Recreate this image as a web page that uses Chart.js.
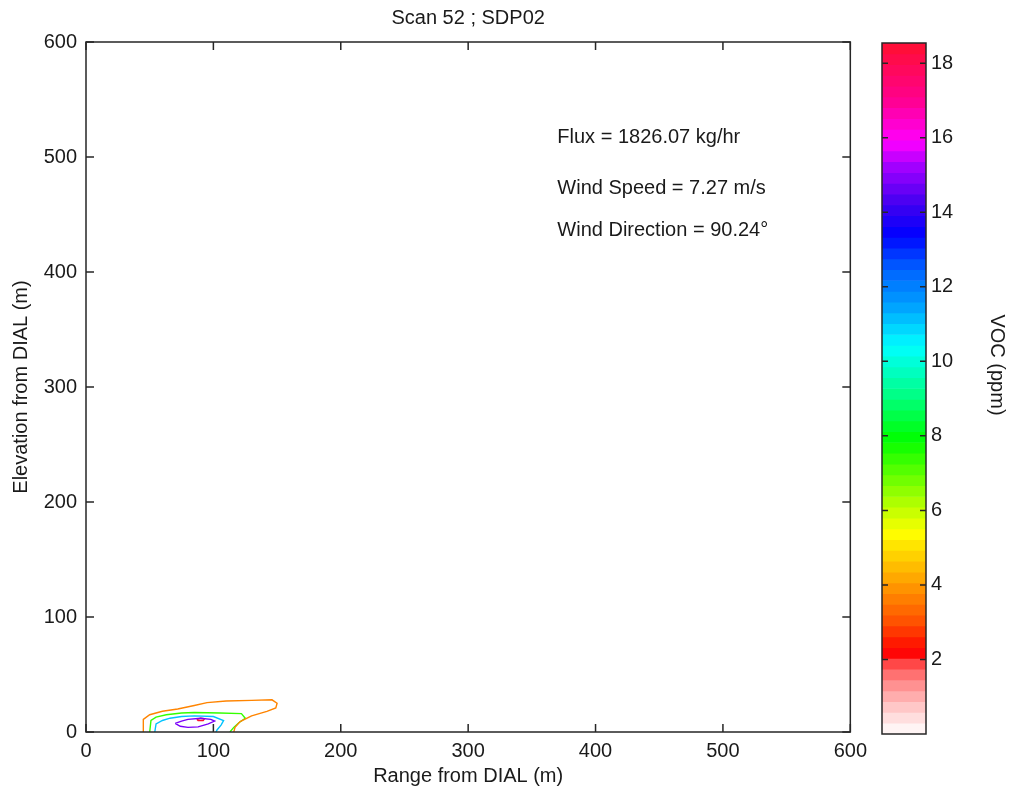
<!DOCTYPE html>
<html>
<head>
<meta charset="utf-8">
<title>Scan 52 ; SDP02</title>
<script src="https://cdn.jsdelivr.net/npm/chart.js@4.4.1/dist/chart.umd.min.js"></script>
<style>
  html, body { margin: 0; padding: 0; background: #fff; }
  #wrap { position: relative; width: 1016px; height: 794px; }
  #box-main { position: absolute; left: 0; top: 0; width: 874px; height: 794px; }
  #box-cbar { position: absolute; left: 870px; top: 0; width: 146px; height: 794px; }
</style>
</head>
<body>
<div id="wrap">
  <div id="box-main"><canvas id="grafico"></canvas></div>
  <div id="box-cbar"><canvas id="barra"></canvas></div>
</div>
<script>
// Scan 52 ; SDP02 - contornos de VOC (ppm) em range x elevação

// eixos (m)
const eixoMin = 0;
const eixoMax = 600;
const ticksEixo = [0, 100, 200, 300, 400, 500, 600];

// escala VOC (ppm)
const vocMin = 0;
const vocMax = 18.54;
const ticksVoc = [2, 4, 6, 8, 10, 12, 14, 16, 18];
const niveisContorno = [3.7, 7.4, 11.1, 14.8, 18.5];

// contornos: [range m, elevação m]
const contorno1 = [[45,0],[45,11],[50,15],[60,18],[72,20],[85,23],[95,25.5],[110,27],[130,27.5],[146,28],[150,25],[149,21],[142,18],[130,14],[121,9],[117,4],[116,0]];
const contorno2 = [[50,0],[51,10],[55,13],[63,15],[75,16.5],[85,17],[105,16.5],[122,16],[125,12],[120,8],[116,4],[113,0]];
const contorno3 = [[54,0],[55,7],[60,10],[66,12],[75,13.5],[85,14],[100,13.5],[108,10],[106,6],[103,2],[102,0]];
const contorno4 = [[70,7.5],[75,9.5],[80,11],[90,12],[98,11],[101,9.5],[96,7],[88,4.5],[80,4],[74,5],[70,7.5]];
const contorno5 = [[87,11],[90,12],[93,11.5],[92,10],[88,10],[87,11]];
const contornos = [contorno1, contorno2, contorno3, contorno4, contorno5];

const textos = ['Flux = 1826.07 kg/hr', 'Wind Speed = 7.27 m/s', 'Wind Direction = 90.24°'];
const titulo = 'Scan 52 ; SDP02';

// mapa de cores (estilo)
const mapaCores = [
  [0, '#ffffff'], [0.6, '#ffd2d2'], [1.2, '#ff9c9c'], [1.8, '#ff5a5a'], [2.2, '#ff0000'],
  [3.0, '#ff5000'], [4.0, '#ff9a00'], [5.0, '#ffe000'], [5.4, '#ffff00'], [6.2, '#b0ff00'],
  [7.9, '#00ff00'], [9.2, '#00ff90'], [10.4, '#00ffff'], [11.5, '#00a0ff'], [12.5, '#0060ff'],
  [13.4, '#0000ff'], [14.2, '#4000f0'], [15.2, '#a000ff'], [15.9, '#ff00ff'], [17.0, '#ff0090'],
  [18.54, '#ff1030'],
];
const nPassos = 64;
const corTexto = '#1a1a1a';
const corEixo = '#262626';

Chart.defaults.font.family = '"Liberation Sans", Arial, sans-serif';
Chart.defaults.font.size = 20;
Chart.defaults.color = corTexto;

function hexRgb(h) { return [1, 3, 5].map(i => parseInt(h.substr(i, 2), 16)); }

function corVoc(v) {
  for (let i = 1; i < mapaCores.length; i++) {
    const [v1, c1] = mapaCores[i];
    if (v <= v1) {
      const [v0, c0] = mapaCores[i - 1];
      const t = (v - v0) / (v1 - v0);
      const a = hexRgb(c0), b = hexRgb(c1);
      return `rgb(${a.map((x, k) => Math.round(x + (b[k] - x) * t)).join(',')})`;
    }
  }
  return mapaCores[mapaCores.length - 1][1];
}

const moldura = {
  id: 'moldura',
  afterDraw(chart) {
    const { ctx, chartArea: a, scales: { x, y } } = chart;
    ctx.save();
    ctx.strokeStyle = corEixo;
    ctx.lineWidth = 1.5;
    ctx.strokeRect(a.left, a.top, a.right - a.left, a.bottom - a.top);
    ctx.beginPath();
    x.ticks.forEach(t => {
      const px = x.getPixelForValue(t.value);
      ctx.moveTo(px, a.bottom); ctx.lineTo(px, a.bottom - 8);
      ctx.moveTo(px, a.top);    ctx.lineTo(px, a.top + 8);
    });
    y.ticks.forEach(t => {
      const py = y.getPixelForValue(t.value);
      ctx.moveTo(a.left, py);  ctx.lineTo(a.left + 8, py);
      ctx.moveTo(a.right, py); ctx.lineTo(a.right - 8, py);
    });
    ctx.stroke();

    // anotações
    ctx.fillStyle = corTexto;
    ctx.font = '20px "Liberation Sans", Arial, sans-serif';
    ctx.textBaseline = 'middle';
    ctx.textAlign = 'left';
    const tx = x.getPixelForValue(370);
    const ys = [517, 473, 436];
    textos.forEach((t, i) => ctx.fillText(t, tx, y.getPixelForValue(ys[i])));
    ctx.restore();
  },
};

function renderContornos() {
  const ctx = document.getElementById('grafico').getContext('2d');
  new Chart(ctx, {
    type: 'scatter',
    data: {
      datasets: contornos.map((c, i) => ({
        label: `${niveisContorno[i]} ppm`,
        data: c.map(([x, y]) => ({ x, y })),
        showLine: true,
        fill: false,
        tension: 0,
        borderColor: corVoc(niveisContorno[i]),
        borderWidth: 1.4,
        pointRadius: 0,
      })),
    },
    options: {
      responsive: true,
      maintainAspectRatio: false,
      animation: false,
      layout: { padding: { top: 0, right: 20, bottom: 0, left: 0 } },
      plugins: {
        legend: { display: false },
        tooltip: { enabled: false },
        title: {
          display: true,
          text: titulo,
          fullSize: false,
          color: corTexto,
          font: { size: 20, weight: 'normal' },
          padding: { top: 6, bottom: 12 },
        },
      },
      scales: {
        x: {
          min: eixoMin, max: eixoMax,
          afterBuildTicks: s => { s.ticks = ticksEixo.map(v => ({ value: v })); },
          afterFit: s => { s.height = 62; },
          grid: { display: false, drawTicks: false },
          border: { display: false },
          ticks: { padding: 7, maxRotation: 0 },
          title: { display: true, text: 'Range from DIAL (m)', padding: { top: 0, bottom: 6 } },
        },
        y: {
          min: eixoMin, max: eixoMax,
          afterBuildTicks: s => { s.ticks = ticksEixo.map(v => ({ value: v })); },
          afterFit: s => { s.width = 86; },
          grid: { display: false, drawTicks: false },
          border: { display: false },
          ticks: { padding: 9 },
          title: { display: true, text: 'Elevation from DIAL (m)', padding: { top: 9, bottom: 0 } },
        },
      },
    },
    plugins: [moldura],
  });
}

const molduraBarra = {
  id: 'molduraBarra',
  afterDraw(chart) {
    const { ctx, chartArea: a, scales: { y } } = chart;
    ctx.save();
    ctx.strokeStyle = corEixo;
    ctx.lineWidth = 1.5;
    ctx.strokeRect(a.left, a.top, a.right - a.left, a.bottom - a.top);
    ctx.beginPath();
    y.ticks.forEach(t => {
      const py = y.getPixelForValue(t.value);
      ctx.moveTo(a.left, py);  ctx.lineTo(a.left + 6, py);
      ctx.moveTo(a.right, py); ctx.lineTo(a.right - 6, py);
    });
    ctx.stroke();
    ctx.fillStyle = corTexto;
    ctx.font = '20px "Liberation Sans", Arial, sans-serif';
    ctx.textAlign = 'center';
    ctx.textBaseline = 'middle';
    ctx.translate(127, 365);
    ctx.rotate(Math.PI / 2);
    ctx.fillText('VOC (ppm)', 0, 0);
    ctx.restore();
  },
};

function renderBarraCores() {
  const fatias = [];
  const cores = [];
  for (let i = 0; i < nPassos; i++) {
    const lo = vocMin + (vocMax - vocMin) * i / nPassos;
    const hi = vocMin + (vocMax - vocMin) * (i + 1) / nPassos;
    fatias.push({ x: 'VOC', y: [lo, hi] });
    cores.push(corVoc((lo + hi) / 2));
  }
  const ctx = document.getElementById('barra').getContext('2d');
  new Chart(ctx, {
    type: 'bar',
    data: {
      labels: ['VOC'],
      datasets: [{
        data: fatias,
        backgroundColor: cores,
        borderWidth: 0,
        barPercentage: 1,
        categoryPercentage: 1,
      }],
    },
    options: {
      responsive: true,
      maintainAspectRatio: false,
      animation: false,
      layout: { padding: { top: 43, right: 0, bottom: 60, left: 12 } },
      plugins: { legend: { display: false }, tooltip: { enabled: false } },
      scales: {
        x: { display: false },
        y: {
          position: 'right',
          min: vocMin, max: vocMax,
          afterBuildTicks: s => { s.ticks = ticksVoc.map(v => ({ value: v })); },
          afterFit: s => { s.width = 90; },
          grid: { display: false, drawTicks: false },
          border: { display: false },
          ticks: { padding: 5 },
        },
      },
    },
    plugins: [molduraBarra],
  });
}

document.addEventListener('DOMContentLoaded', () => {
  renderContornos();
  renderBarraCores();
});
</script>
</body>
</html>
